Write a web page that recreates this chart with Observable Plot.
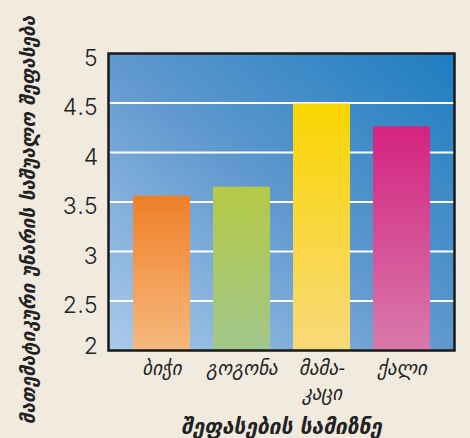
<!DOCTYPE html>
<html><head><meta charset="utf-8">
<script src="https://cdn.jsdelivr.net/npm/d3@7"></script>
<script src="https://cdn.jsdelivr.net/npm/@observablehq/plot@0.6"></script>
<style>html,body{margin:0;padding:0;background:#f0eadf;}</style>
</head><body><div id="chart"></div>
<script>
const categories = ["ბიჭი", "გოგონა", "მამა-\nკაცი", "ქალი"];
const values = [3.56, 3.65, 4.49, 4.26];
const yTicks = [2.5, 3, 3.5, 4, 4.5, 5];
const yTickLow = [2];
const gridValues = [2.5, 3, 3.5, 4, 4.5];
const barTop = ["#ee7f28", "#b5c945", "#f9d500", "#d42380"];
const barBottom = ["#f7b97e", "#a1c78c", "#f8d97a", "#d87aab"];
const yTitle = "მათემატიკური უნარის საშუალო შეფასება";
const xTitle = "შეფასების სამიზნე";

const data = categories.map((c, i) => ({cat: c, val: values[i], fill: `url(#bar${i})`}));

function defsMark() {
  const g = d3.create("svg:g");
  const defs = g.append("defs");
  const bg = defs.append("linearGradient").attr("id", "bgGrad")
    .attr("x1", 0).attr("y1", 1).attr("x2", 1).attr("y2", 0);
  bg.append("stop").attr("offset", 0).attr("stop-color", "#abcaea");
  bg.append("stop").attr("offset", 0.5).attr("stop-color", "#5f98cf");
  bg.append("stop").attr("offset", 1).attr("stop-color", "#1d7dc0");
  barTop.forEach((t, i) => {
    const lg = defs.append("linearGradient").attr("id", `bar${i}`)
      .attr("x1", 0).attr("y1", 0).attr("x2", 0).attr("y2", 1);
    lg.append("stop").attr("offset", 0).attr("stop-color", t);
    lg.append("stop").attr("offset", 1).attr("stop-color", barBottom[i]);
  });
  return g.node();
}

const tickStyle = {tickSize: 0, tickPadding: 10, fontSize: 23, fontFamily: "Inter", fontWeight: 300, fill: "#222", label: null, tickFormat: d => String(d)};

const chart = Plot.plot({
  width: 470,
  height: 438,
  marginLeft: 108,
  marginRight: 16,
  marginTop: 53,
  marginBottom: 88,
  style: {background: "#f0eadf", overflow: "visible"},
  x: {domain: categories, padding: 0.29, axis: null},
  y: {domain: [2, 5], axis: null},
  color: {type: "identity"},
  marks: [
    defsMark,
    Plot.frame({fill: "url(#bgGrad)"}),
    Plot.ruleY(gridValues, {stroke: "white", strokeWidth: 2}),
    Plot.barY(data, {x: "cat", y1: 2, y2: "val", fill: "fill"}),
    Plot.frame({stroke: "#1a1a1a", strokeWidth: 2.5}),
    Plot.axisY(yTicks, {...tickStyle, dy: 5}),
    Plot.axisY(yTickLow, {...tickStyle, dy: -4}),
    Plot.text(data, {x: "cat", text: "cat", frameAnchor: "bottom", lineAnchor: "top", dy: 6, lineHeight: 1.35, fontSize: 19, fontStyle: "italic", fontFamily: "DejaVu Sans", fill: "#222"}),
    Plot.text([xTitle], {text: d => d, frameAnchor: "bottom", lineAnchor: "middle", dy: 77, fontSize: 21, fontWeight: "bold", fontStyle: "italic", fontFamily: "DejaVu Sans", fill: "#222"}),
    Plot.text([yTitle], {text: d => d, frameAnchor: "left", rotate: -90, dx: -80, dy: 18, textAnchor: "middle", lineAnchor: "middle", fontSize: 19, fontWeight: "bold", fontStyle: "italic", fontFamily: "DejaVu Sans", fill: "#222"})
  ]
});
document.getElementById("chart").appendChild(chart);
</script>
</body></html>
